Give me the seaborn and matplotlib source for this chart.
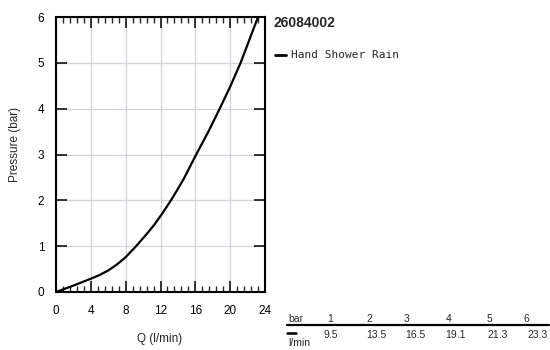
import matplotlib
matplotlib.use("Agg")
import matplotlib.pyplot as plt
import seaborn as sns
import pandas as pd
from matplotlib.ticker import MultipleLocator
from matplotlib.lines import Line2D

# Data (curve)
flow_lpm = [0, 2, 4, 5, 6, 7, 8, 9.2, 10.3, 11.3, 12.3, 13.2, 14.0, 14.7, 16.1, 17.5, 18.8, 20.05, 21.2, 22.2, 23.2]
pressure_bar = [0, 0.14, 0.29, 0.37, 0.47, 0.6, 0.76, 1.0, 1.24, 1.47, 1.74, 2.0, 2.25, 2.48, 3.0, 3.5, 4.0, 4.5, 5.0, 5.5, 6.0]
# Table under the legend
table_bar = ["1", "2", "3", "4", "5", "6"]
table_lpm = ["9.5", "13.5", "16.5", "19.1", "21.3", "23.3"]
series_name = "Hand Shower Rain"
title = "26084002"
x_ticks = [0, 4, 8, 12, 16, 20, 24]
y_ticks = [0, 1, 2, 3, 4, 5, 6]

sns.set_style("white")
plt.rcParams['font.family'] = ['Liberation Sans', 'DejaVu Sans']

fig = plt.figure(figsize=(5.5, 3.5), dpi=100)
ax = fig.add_axes([56/550, 1-292/350, (265-56)/550, (292-17)/350])

df = pd.DataFrame({"Q": flow_lpm, "P": pressure_bar})
sns.lineplot(data=df, x="Q", y="P", ax=ax, color="black", linewidth=1.6,
             legend=False, solid_joinstyle="round", solid_capstyle="round")

ax.set_xlim(0, 24)
ax.set_ylim(0, 6)
ax.set_xticks(x_ticks)
ax.set_yticks(y_ticks)
ax.xaxis.set_minor_locator(MultipleLocator(0.8))
ax.grid(True, which="major", color="#d0d2dc", linewidth=0.9)
ax.set_axisbelow(True)
ax.tick_params(axis="x", which="major", direction="in", length=8, width=1.1,
               top=True, bottom=True, labelsize=8.5, pad=9, colors="black")
ax.tick_params(axis="x", which="minor", direction="in", length=4, width=1.0,
               top=True, bottom=True)
ax.tick_params(axis="y", which="major", direction="in", length=8, width=1.1,
               left=True, right=True, labelsize=8.5, pad=8.5, colors="black")
for s in ax.spines.values():
    s.set_color("black")
    s.set_linewidth(1.5)

ax.set_xlabel("Q (l/min)", fontsize=8.5)
ax.set_ylabel("Pressure (bar)", fontsize=8.5)
ax.xaxis.set_label_coords((159.5-56)/209, (292-332.7)/275)
ax.yaxis.set_label_coords((21-56)/209, (292-144)/275)

# Title and legend
fig.text(274/550, 1-23/350, title, fontsize=10, fontweight="bold", va="center", ha="left")
fig.add_artist(Line2D([275/550, 286/550], [1-55/350, 1-55/350], color="black", linewidth=2))
fig.text(291/550, 1-55/350, series_name, fontsize=8, family="DejaVu Sans Mono",
         va="center", ha="left")

# Table
fs = 7.5
fig.text(288/550, 1-319/350, "bar", fontsize=fs, va="center", ha="left")
hdr_x = [327, 366, 404, 446, 487, 524]
val_x = [323, 366, 405, 445, 487, 527]
for hx, lab in zip(hdr_x, table_bar):
    fig.text(hx/550, 1-319/350, lab, fontsize=fs, va="center", ha="left")
fig.add_artist(Line2D([287/550, 549/550], [1-324.5/350, 1-324.5/350], color="black", linewidth=1.6))
fig.add_artist(Line2D([287/550, 296/550], [1-332.7/350, 1-332.7/350], color="black", linewidth=1.8))
for vx, lab in zip(val_x, table_lpm):
    fig.text(vx/550, 1-335.5/350, lab, fontsize=fs, va="center", ha="left")
fig.text(288/550, 1-343.5/350, "l/min", fontsize=fs, va="center", ha="left")

fig.savefig("out.png", dpi=100)
